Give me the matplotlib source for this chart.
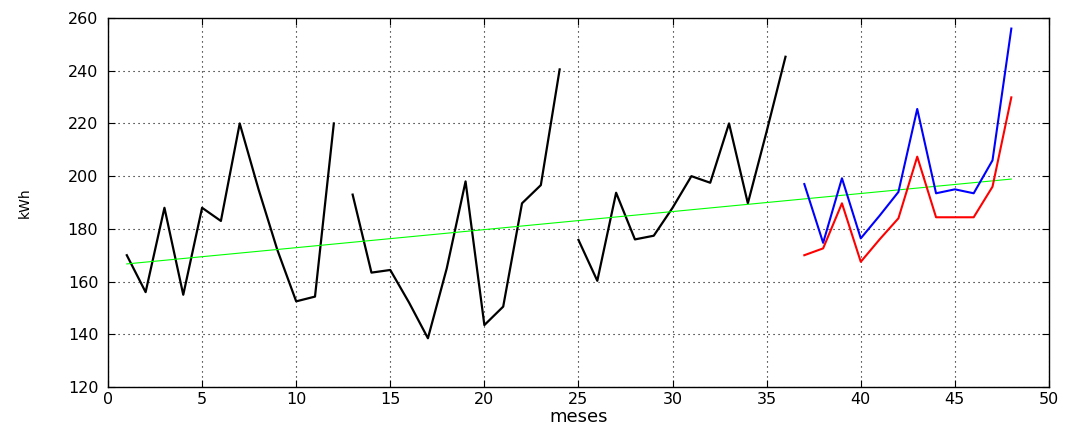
import matplotlib.pyplot as plt
import numpy as np

# monthly consumption (kWh), three years of history
months_y1 = np.arange(1, 13)
kwh_y1 = [170, 156, 188, 155, 188, 183, 220, 195, 172, 152.5, 154.3, 220]
months_y2 = np.arange(13, 25)
kwh_y2 = [193, 163.4, 164.4, 152, 138.5, 165, 198, 143.5, 150.5, 189.7, 196.6, 240.5]
months_y3 = np.arange(25, 37)
kwh_y3 = [175.8, 160.3, 193.7, 176, 177.4, 188, 200, 197.5, 220, 189.7, 217, 245.3]

# forecasts for the fourth year
months_fc = np.arange(37, 49)
forecast_blue = [197, 174.7, 199.2, 176.4, 185, 194, 225.5, 193.5, 195, 193.5, 206, 256]
forecast_red = [170, 172.6, 189.7, 167.5, 176, 184, 207.4, 184.4, 184.4, 184.4, 196, 229.9]

# trend line endpoints
trend_x = [1, 48]
trend_y = [166.7, 198.9]

plt.rcParams['font.family'] = ['DejaVu Sans']

fig = plt.figure(figsize=(10.67, 4.25), dpi=100)
ax = fig.add_axes([0.1012, 0.0894, 0.8819, 0.8682])

ax.plot(months_y1, kwh_y1, color='black', lw=1.6)
ax.plot(months_y2, kwh_y2, color='black', lw=1.6)
ax.plot(months_y3, kwh_y3, color='black', lw=1.6)
ax.plot(trend_x, trend_y, color='#00ff00', lw=0.8)
ax.plot(months_fc, forecast_blue, color='blue', lw=1.5)
ax.plot(months_fc, forecast_red, color='red', lw=1.5)

ax.set_xlim(0, 50)
ax.set_ylim(120, 260)
ax.set_xticks(np.arange(0, 51, 5))
ax.set_yticks(np.arange(120, 261, 20))
ax.grid(True, color='black', linestyle=(0, (1, 3.5)), lw=0.8)
ax.tick_params(direction='in', top=True, right=True, length=5, labelsize=11.5)
ax.tick_params(axis='y', pad=7)
for s in ax.spines.values():
    s.set_linewidth(1.0)

ax.set_xlabel('meses', fontsize=13, labelpad=1)
ax.set_ylabel('kWh', fontsize=10)
ax.yaxis.set_label_coords(-0.081, 0.5)

fig.savefig('out.png', dpi=100)
